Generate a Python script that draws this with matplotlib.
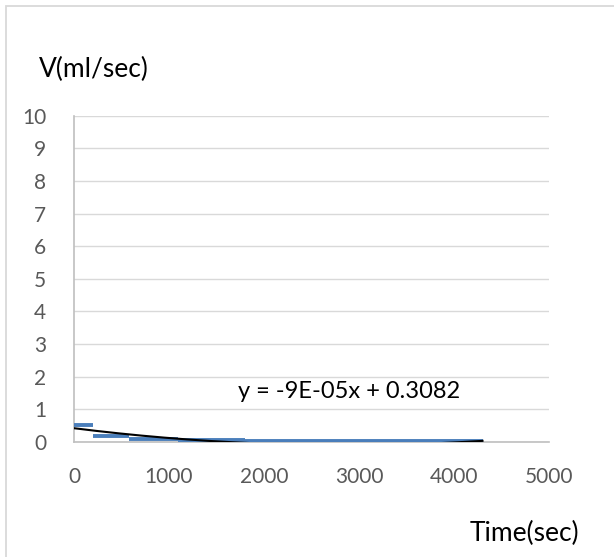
import numpy as np
import matplotlib.pyplot as plt
from matplotlib.patches import Rectangle

# data: each flow level held over a time interval
t_start = [0, 200, 575, 1090, 1800]
t_end = [200, 575, 1090, 1800, 4300]
flow = [0.53, 0.19, 0.10, 0.05, 0.02]

y_ticks = list(range(0, 11))
x_ticks = [0, 1000, 2000, 3000, 4000, 5000]
eq_label = "y = -9E-05x + 0.3082"

plt.rcParams['font.family'] = ['Lato', 'DejaVu Sans']

fig = plt.figure(figsize=(6.14, 5.57), dpi=100)
W, H = 614, 557

# chart border (light gray, cut off on right and bottom)
fig.patches.append(Rectangle((6 / W, -0.1), 1.2, 1 - 6 / H + 0.1, transform=fig.transFigure,
                             fill=False, edgecolor='#d9d9d9', linewidth=1.3))

ax = fig.add_axes([74 / W, (H - 442) / H, (549 - 74) / W, (442 - 115.7) / H])

blue = '#4a7ebb'
for a, b, v in zip(t_start, t_end, flow):
    ax.plot([a, b], [v, v], color=blue, linewidth=2.8, solid_capstyle='butt', zorder=3)

# polynomial trendline fitted to the step data
px = []
py = []
for a, b, v in zip(t_start, t_end, flow):
    px += [a, b]
    py += [v, v]
coef = np.polyfit(px, py, 2)
xs = np.linspace(0, max(t_end), 200)
ax.plot(xs, np.polyval(coef, xs), color='black', linewidth=1.5, zorder=4)

ax.set_xlim(0, 5000)
ax.set_ylim(0, 10)
ax.set_xticks(x_ticks)
ax.set_yticks(y_ticks)
ax.grid(axis='y', color='#d9d9d9', linewidth=1)
ax.set_axisbelow(True)
for s in ['top', 'right']:
    ax.spines[s].set_visible(False)
ax.spines['left'].set_color('#bfbfbf')
ax.spines['bottom'].set_color('#bfbfbf')
ax.spines['left'].set_linewidth(1.2)
ax.spines['bottom'].set_linewidth(1.2)
ax.tick_params(length=0, labelsize=15, colors='#595959')
ax.tick_params(axis='x', pad=18)
ax.tick_params(axis='y', pad=20)

ax.text(1726, 1.55, eq_label, fontsize=17, color='black', va='center', ha='left')

fig.text(39 / W, 1 - 69 / H, "V(ml/sec)", fontsize=19, va='center', ha='left')
fig.text(470 / W, 1 - 533 / H, "Time(sec)", fontsize=19, va='center', ha='left')

fig.savefig('out.png', dpi=100)
